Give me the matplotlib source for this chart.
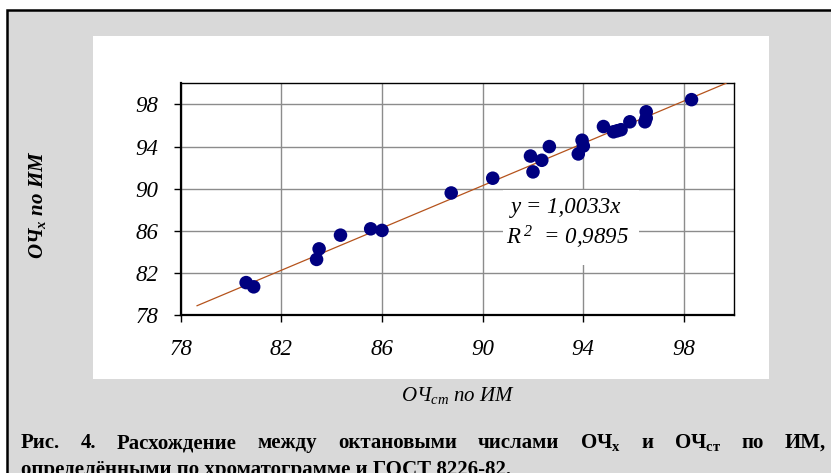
import matplotlib
matplotlib.use("Agg")
import matplotlib.pyplot as plt
from matplotlib.patches import Rectangle
import numpy as np

# Octane numbers (research method): standard method vs chromatogram
och_st = [80.6, 80.9, 83.4, 83.5, 84.35, 85.55, 86.0, 88.75, 90.4, 91.9, 92.0,
          92.35, 92.65, 93.8, 93.95, 94.0, 94.8, 95.2, 95.35, 95.5, 95.85,
          96.45, 96.5, 96.5, 98.3]
och_x = [81.1, 80.7, 83.3, 84.3, 85.6, 86.2, 86.05, 89.6, 91.0, 93.1, 91.6,
         92.7, 94.0, 93.3, 94.6, 94.05, 95.9, 95.4, 95.5, 95.6, 96.35,
         96.35, 96.7, 97.3, 98.45]
ticks = [78, 82, 86, 90, 94, 98]
fit_slope = 1.0033
fit_r2 = 0.9895
fit_x = [78.65, 99.67]

W, H = 831, 473
plt.rcParams["mathtext.fontset"] = "custom"
plt.rcParams["mathtext.rm"] = "Liberation Serif:italic"
plt.rcParams["mathtext.it"] = "Liberation Serif:italic"
plt.rcParams["mathtext.bf"] = "Liberation Serif:bold"
plt.rcParams["mathtext.sf"] = "Liberation Serif:bold:italic"

fig = plt.figure(figsize=(W / 100, H / 100), dpi=100)
fig.patch.set_facecolor("white")


def px(x0, y0, w, h):
    """Convert a top-left pixel box to figure fractions."""
    return (x0 / W, 1 - (y0 + h) / H, w / W, h / H)


# grey panel with black frame on the left/top
gx, gy, gw, gh = px(7, 10, W, H)
fig.patches.append(Rectangle((gx, gy), gw, gh, transform=fig.transFigure,
                             facecolor="#d9d9d9", edgecolor="black",
                             linewidth=1.8, zorder=-2))
# white chart area
cx, cy, cw, ch = px(92.7, 36, 676.3, 343)
fig.patches.append(Rectangle((cx, cy), cw, ch, transform=fig.transFigure,
                             facecolor="white", edgecolor="none", zorder=-1))

ax = fig.add_axes(px(180.7, 83.3, 553.6, 232))
ax.set_xlim(78, 100)
ax.set_ylim(78, 100)
ax.set_facecolor("white")
ax.set_xticks(ticks)
ax.set_yticks(ticks)
ax.set_xticklabels([str(t) for t in ticks])
ax.set_yticklabels([str(t) for t in ticks])
ax.grid(True, color="#8c8c8c", linewidth=1.0)
ax.set_axisbelow(True)
for s in ax.spines.values():
    s.set_color("black")
    s.set_linewidth(1.0)
ax.spines["left"].set_linewidth(1.6)
ax.spines["bottom"].set_linewidth(1.6)
ax.tick_params(axis="x", direction="out", length=5, width=1, pad=12)
ax.tick_params(axis="y", direction="out", length=5, width=1, pad=11)
for lab in ax.get_xticklabels() + ax.get_yticklabels():
    lab.set_fontfamily("Liberation Serif")
    lab.set_fontstyle("italic")
    lab.set_fontsize(16.5)

# regression line y = a x
fx = np.array(fit_x)
ax.plot(fx, fit_slope * fx, color="#b5531c", linewidth=0.9, zorder=3)
ax.scatter(och_st, och_x, s=95, color="#000080", edgecolors="none", zorder=4)

# equation block on a white backing
bx, by, bw, bh = px(503, 190, 136, 75)
ax.add_patch(Rectangle((bx, by), bw, bh, transform=fig.transFigure,
                       facecolor="white", edgecolor="none", zorder=1.5))
eq_kw = dict(transform=fig.transFigure, ha="center", va="center",
             fontfamily="Liberation Serif", fontstyle="italic", fontsize=16.5,
             zorder=5)
fig.text(566 / W, 1 - 208 / H, "y = " + f"{fit_slope:.4f}".replace(".", ",") + "x", **eq_kw)
fig.text(567 / W, 1 - 237 / H,
         r"$\mathit{R}^{\,2}$  = " + f"{fit_r2:.4f}".replace(".", ","), **eq_kw)

# axis titles
fig.text(458 / W, 1 - 395 / H, r"ОЧ$_{\mathit{ст}}$ по ИМ",
         ha="center", va="center", fontfamily="Liberation Serif",
         fontstyle="italic", fontsize=15)
fig.text(37 / W, 1 - 205 / H, r"ОЧ$_{\mathsf{x}}$ по ИМ", rotation=90,
         ha="center", va="center", fontfamily="Liberation Serif",
         fontstyle="italic", fontweight="bold", fontsize=15)

# justified caption, first line
words = ["Рис.", "4.", "Расхождение", "между", "октановыми", "числами",
         "ОЧ$_{\\mathbf{x}}$", "и", "ОЧ$_{\\mathbf{ст}}$", "по", "ИМ,"]
cap_kw = dict(fontfamily="Liberation Serif", fontweight="bold", fontsize=15,
              va="baseline", ha="left", transform=None)
renderer = fig.canvas.get_renderer()
widths = []
for w in words:
    t = fig.text(0, 0, w, **cap_kw)
    widths.append(t.get_window_extent(renderer).width)
    t.remove()
left, right = 21, 826
gap = (right - left - sum(widths)) / (len(words) - 1)
xpos = left
base1 = H - 448
for w, wd in zip(words, widths):
    fig.text(xpos, base1, w, **cap_kw)
    xpos += wd + gap
fig.text(left, H - 475, "определёнными по хроматограмме и ГОСТ 8226-82.", **cap_kw)

fig.savefig("out.png", dpi=100)
